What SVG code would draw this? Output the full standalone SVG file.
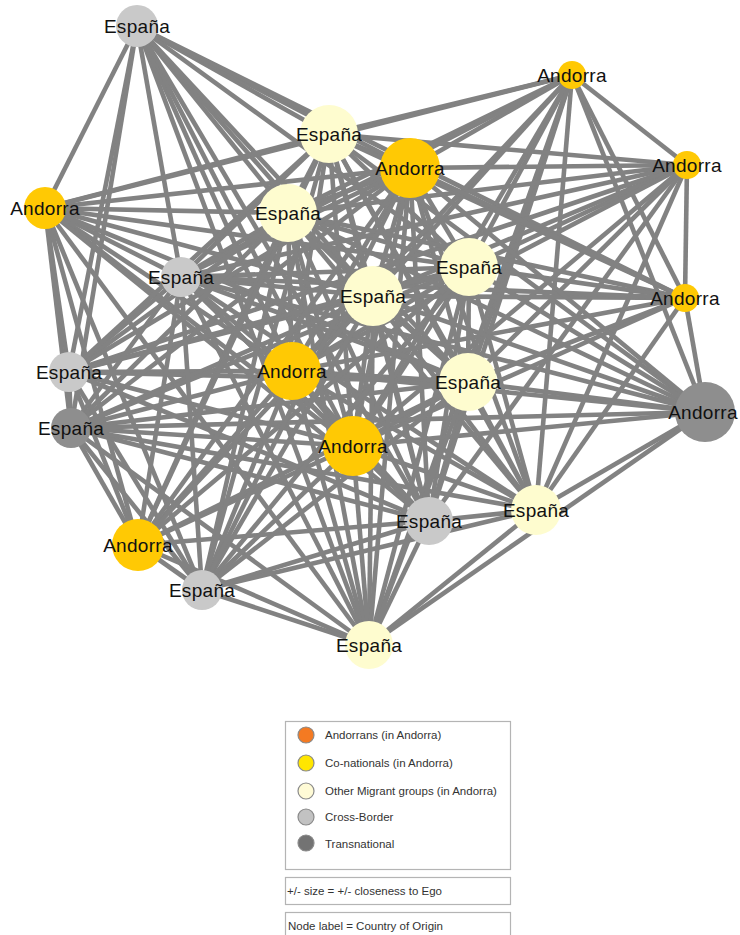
<svg xmlns="http://www.w3.org/2000/svg" width="740" height="935" viewBox="0 0 740 935">
<style>
  .edges line { stroke: #828282; stroke-width: 4.6; stroke-linecap: butt; }
  .and { fill: #FFC904; }
  .oth { fill: #FEFCCF; }
  .cb  { fill: #C9C9C9; }
  .tn  { fill: #8E8E8E; }
  .lbl { font-family: "Liberation Sans", Arial, sans-serif; font-size: 19px; fill: #111; text-anchor: middle; letter-spacing: 0.3px; }
  .box { fill: #fff; stroke: #b4b4b4; stroke-width: 1.2; }
  .key { stroke: #8a8a8a; stroke-width: 1.2; }
  .ltxt { font-family: "Liberation Sans", Arial, sans-serif; font-size: 11.5px; fill: #333; }
</style>
<rect width="740" height="935" fill="#fff"/>

<!-- connectors -->
<g id="edges" class="edges">
  <!-- core cluster -->
  <line x1="329" y1="134" x2="410" y2="168"/>
  <line x1="329" y1="134" x2="288" y2="213"/>
  <line x1="329" y1="134" x2="181" y2="277"/>
  <line x1="329" y1="134" x2="469" y2="267"/>
  <line x1="329" y1="134" x2="373" y2="296"/>
  <line x1="329" y1="134" x2="292" y2="371"/>
  <line x1="329" y1="134" x2="353" y2="446"/>
  <line x1="329" y1="134" x2="468" y2="382"/>
  <line x1="329" y1="134" x2="429" y2="521"/>
  <line x1="329" y1="134" x2="536" y2="510"/>
  <line x1="410" y1="168" x2="288" y2="213"/>
  <line x1="410" y1="168" x2="181" y2="277"/>
  <line x1="410" y1="168" x2="469" y2="267"/>
  <line x1="410" y1="168" x2="373" y2="296"/>
  <line x1="410" y1="168" x2="292" y2="371"/>
  <line x1="410" y1="168" x2="353" y2="446"/>
  <line x1="410" y1="168" x2="468" y2="382"/>
  <line x1="410" y1="168" x2="429" y2="521"/>
  <line x1="410" y1="168" x2="536" y2="510"/>
  <line x1="288" y1="213" x2="181" y2="277"/>
  <line x1="288" y1="213" x2="469" y2="267"/>
  <line x1="288" y1="213" x2="373" y2="296"/>
  <line x1="288" y1="213" x2="292" y2="371"/>
  <line x1="288" y1="213" x2="353" y2="446"/>
  <line x1="288" y1="213" x2="468" y2="382"/>
  <line x1="288" y1="213" x2="429" y2="521"/>
  <line x1="288" y1="213" x2="536" y2="510"/>
  <line x1="181" y1="277" x2="469" y2="267"/>
  <line x1="181" y1="277" x2="373" y2="296"/>
  <line x1="181" y1="277" x2="292" y2="371"/>
  <line x1="181" y1="277" x2="353" y2="446"/>
  <line x1="181" y1="277" x2="468" y2="382"/>
  <line x1="181" y1="277" x2="429" y2="521"/>
  <line x1="181" y1="277" x2="536" y2="510"/>
  <line x1="469" y1="267" x2="373" y2="296"/>
  <line x1="469" y1="267" x2="292" y2="371"/>
  <line x1="469" y1="267" x2="353" y2="446"/>
  <line x1="469" y1="267" x2="468" y2="382"/>
  <line x1="469" y1="267" x2="429" y2="521"/>
  <line x1="469" y1="267" x2="536" y2="510"/>
  <line x1="373" y1="296" x2="292" y2="371"/>
  <line x1="373" y1="296" x2="353" y2="446"/>
  <line x1="373" y1="296" x2="468" y2="382"/>
  <line x1="373" y1="296" x2="429" y2="521"/>
  <line x1="373" y1="296" x2="536" y2="510"/>
  <line x1="292" y1="371" x2="353" y2="446"/>
  <line x1="292" y1="371" x2="468" y2="382"/>
  <line x1="292" y1="371" x2="429" y2="521"/>
  <line x1="292" y1="371" x2="536" y2="510"/>
  <line x1="353" y1="446" x2="468" y2="382"/>
  <line x1="353" y1="446" x2="429" y2="521"/>
  <line x1="353" y1="446" x2="536" y2="510"/>
  <line x1="468" y1="382" x2="429" y2="521"/>
  <line x1="468" y1="382" x2="536" y2="510"/>
  <line x1="429" y1="521" x2="536" y2="510"/>
  <!-- top España -->
  <line x1="137" y1="26" x2="45" y2="208"/>
  <line x1="137" y1="26" x2="69" y2="372"/>
  <line x1="137" y1="26" x2="71" y2="428"/>
  <line x1="137" y1="26" x2="181" y2="277"/>
  <line x1="137" y1="26" x2="369" y2="645"/>
  <line x1="137" y1="26" x2="292" y2="371"/>
  <line x1="137" y1="26" x2="353" y2="446"/>
  <line x1="137" y1="26" x2="429" y2="521"/>
  <line x1="137" y1="26" x2="288" y2="213"/>
  <line x1="137" y1="26" x2="373" y2="296"/>
  <line x1="137" y1="26" x2="468" y2="382"/>
  <line x1="137" y1="26" x2="329" y2="134"/>
  <line x1="137" y1="26" x2="410" y2="168"/>
  <line x1="137" y1="26" x2="469" y2="267"/>
  <line x1="137" y1="26" x2="685" y2="298"/>
  <!-- top Andorra -->
  <line x1="572" y1="75" x2="45" y2="208"/>
  <line x1="572" y1="75" x2="329" y2="134"/>
  <line x1="572" y1="75" x2="410" y2="168"/>
  <line x1="572" y1="75" x2="288" y2="213"/>
  <line x1="572" y1="75" x2="469" y2="267"/>
  <line x1="572" y1="75" x2="373" y2="296"/>
  <line x1="572" y1="75" x2="468" y2="382"/>
  <line x1="572" y1="75" x2="429" y2="521"/>
  <line x1="572" y1="75" x2="369" y2="645"/>
  <line x1="572" y1="75" x2="536" y2="510"/>
  <line x1="572" y1="75" x2="353" y2="446"/>
  <line x1="572" y1="75" x2="292" y2="371"/>
  <line x1="572" y1="75" x2="687" y2="165"/>
  <line x1="572" y1="75" x2="685" y2="298"/>
  <line x1="572" y1="75" x2="705" y2="412"/>
  <line x1="572" y1="75" x2="181" y2="277"/>
  <!-- right Andorra (upper) -->
  <line x1="687" y1="165" x2="329" y2="134"/>
  <line x1="687" y1="165" x2="410" y2="168"/>
  <line x1="687" y1="165" x2="685" y2="298"/>
  <line x1="687" y1="165" x2="288" y2="213"/>
  <line x1="687" y1="165" x2="469" y2="267"/>
  <line x1="687" y1="165" x2="373" y2="296"/>
  <line x1="687" y1="165" x2="292" y2="371"/>
  <line x1="687" y1="165" x2="353" y2="446"/>
  <line x1="687" y1="165" x2="468" y2="382"/>
  <line x1="687" y1="165" x2="429" y2="521"/>
  <line x1="687" y1="165" x2="536" y2="510"/>
  <line x1="687" y1="165" x2="69" y2="372"/>
  <line x1="687" y1="165" x2="181" y2="277"/>
  <!-- right Andorra (lower) -->
  <line x1="685" y1="298" x2="329" y2="134"/>
  <line x1="685" y1="298" x2="410" y2="168"/>
  <line x1="685" y1="298" x2="288" y2="213"/>
  <line x1="685" y1="298" x2="469" y2="267"/>
  <line x1="685" y1="298" x2="373" y2="296"/>
  <line x1="685" y1="298" x2="292" y2="371"/>
  <line x1="685" y1="298" x2="468" y2="382"/>
  <line x1="685" y1="298" x2="353" y2="446"/>
  <line x1="685" y1="298" x2="705" y2="412"/>
  <line x1="685" y1="298" x2="536" y2="510"/>
  <line x1="685" y1="298" x2="181" y2="277"/>
  <!-- left Andorra -->
  <line x1="45" y1="208" x2="329" y2="134"/>
  <line x1="45" y1="208" x2="410" y2="168"/>
  <line x1="45" y1="208" x2="288" y2="213"/>
  <line x1="45" y1="208" x2="469" y2="267"/>
  <line x1="45" y1="208" x2="373" y2="296"/>
  <line x1="45" y1="208" x2="181" y2="277"/>
  <line x1="45" y1="208" x2="468" y2="382"/>
  <line x1="45" y1="208" x2="292" y2="371"/>
  <line x1="45" y1="208" x2="353" y2="446"/>
  <line x1="45" y1="208" x2="69" y2="372"/>
  <line x1="45" y1="208" x2="71" y2="428"/>
  <line x1="45" y1="208" x2="138" y2="545"/>
  <line x1="45" y1="208" x2="202" y2="590"/>
  <line x1="45" y1="208" x2="369" y2="645"/>
  <line x1="45" y1="208" x2="429" y2="521"/>
  <!-- left España (cross-border) -->
  <line x1="69" y1="372" x2="71" y2="428"/>
  <line x1="69" y1="372" x2="181" y2="277"/>
  <line x1="69" y1="372" x2="288" y2="213"/>
  <line x1="69" y1="372" x2="329" y2="134"/>
  <line x1="69" y1="372" x2="410" y2="168"/>
  <line x1="69" y1="372" x2="373" y2="296"/>
  <line x1="69" y1="372" x2="292" y2="371"/>
  <line x1="69" y1="372" x2="353" y2="446"/>
  <line x1="69" y1="372" x2="468" y2="382"/>
  <line x1="69" y1="372" x2="469" y2="267"/>
  <line x1="69" y1="372" x2="138" y2="545"/>
  <line x1="69" y1="372" x2="202" y2="590"/>
  <line x1="69" y1="372" x2="429" y2="521"/>
  <!-- left España (transnational) -->
  <line x1="71" y1="428" x2="181" y2="277"/>
  <line x1="71" y1="428" x2="288" y2="213"/>
  <line x1="71" y1="428" x2="373" y2="296"/>
  <line x1="71" y1="428" x2="292" y2="371"/>
  <line x1="71" y1="428" x2="353" y2="446"/>
  <line x1="71" y1="428" x2="468" y2="382"/>
  <line x1="71" y1="428" x2="429" y2="521"/>
  <line x1="71" y1="428" x2="536" y2="510"/>
  <line x1="71" y1="428" x2="138" y2="545"/>
  <line x1="71" y1="428" x2="202" y2="590"/>
  <line x1="71" y1="428" x2="369" y2="645"/>
  <line x1="71" y1="428" x2="705" y2="412"/>
  <line x1="71" y1="428" x2="469" y2="267"/>
  <line x1="71" y1="428" x2="410" y2="168"/>
  <!-- right Andorra (transnational) -->
  <line x1="705" y1="412" x2="329" y2="134"/>
  <line x1="705" y1="412" x2="410" y2="168"/>
  <line x1="705" y1="412" x2="288" y2="213"/>
  <line x1="705" y1="412" x2="469" y2="267"/>
  <line x1="705" y1="412" x2="373" y2="296"/>
  <line x1="705" y1="412" x2="468" y2="382"/>
  <line x1="705" y1="412" x2="292" y2="371"/>
  <line x1="705" y1="412" x2="353" y2="446"/>
  <line x1="705" y1="412" x2="536" y2="510"/>
  <line x1="705" y1="412" x2="369" y2="645"/>
  <line x1="705" y1="412" x2="181" y2="277"/>
  <!-- lower-left Andorra -->
  <line x1="138" y1="545" x2="181" y2="277"/>
  <line x1="138" y1="545" x2="288" y2="213"/>
  <line x1="138" y1="545" x2="292" y2="371"/>
  <line x1="138" y1="545" x2="353" y2="446"/>
  <line x1="138" y1="545" x2="373" y2="296"/>
  <line x1="138" y1="545" x2="468" y2="382"/>
  <line x1="138" y1="545" x2="429" y2="521"/>
  <line x1="138" y1="545" x2="202" y2="590"/>
  <line x1="138" y1="545" x2="369" y2="645"/>
  <line x1="138" y1="545" x2="329" y2="134"/>
  <line x1="138" y1="545" x2="469" y2="267"/>
  <line x1="138" y1="545" x2="410" y2="168"/>
  <!-- lower-left España -->
  <line x1="202" y1="590" x2="181" y2="277"/>
  <line x1="202" y1="590" x2="288" y2="213"/>
  <line x1="202" y1="590" x2="292" y2="371"/>
  <line x1="202" y1="590" x2="353" y2="446"/>
  <line x1="202" y1="590" x2="373" y2="296"/>
  <line x1="202" y1="590" x2="468" y2="382"/>
  <line x1="202" y1="590" x2="429" y2="521"/>
  <line x1="202" y1="590" x2="536" y2="510"/>
  <line x1="202" y1="590" x2="369" y2="645"/>
  <line x1="202" y1="590" x2="469" y2="267"/>
  <line x1="202" y1="590" x2="410" y2="168"/>
  <line x1="202" y1="590" x2="329" y2="134"/>
  <!-- bottom España -->
  <line x1="369" y1="645" x2="181" y2="277"/>
  <line x1="369" y1="645" x2="292" y2="371"/>
  <line x1="369" y1="645" x2="288" y2="213"/>
  <line x1="369" y1="645" x2="353" y2="446"/>
  <line x1="369" y1="645" x2="373" y2="296"/>
  <line x1="369" y1="645" x2="410" y2="168"/>
  <line x1="369" y1="645" x2="469" y2="267"/>
  <line x1="369" y1="645" x2="468" y2="382"/>
  <line x1="369" y1="645" x2="429" y2="521"/>
  <line x1="369" y1="645" x2="536" y2="510"/>
</g>

<!-- nodes -->
<g id="n1"><circle class="cb" cx="137" cy="26" r="21"/><text class="lbl" x="137" y="33">España</text></g>
<g id="n2"><circle class="oth" cx="329" cy="134" r="29"/><text class="lbl" x="329" y="141">España</text></g>
<g id="n3"><circle class="and" cx="410" cy="168" r="30"/><text class="lbl" x="410" y="175">Andorra</text></g>
<g id="n4"><circle class="and" cx="572" cy="75" r="14"/><text class="lbl" x="572" y="82">Andorra</text></g>
<g id="n5"><circle class="and" cx="687" cy="165" r="14"/><text class="lbl" x="687" y="172">Andorra</text></g>
<g id="n6"><circle class="and" cx="685" cy="298" r="14"/><text class="lbl" x="685" y="305">Andorra</text></g>
<g id="n7"><circle class="and" cx="45" cy="208" r="21"/><text class="lbl" x="45" y="215">Andorra</text></g>
<g id="n8"><circle class="oth" cx="288" cy="213" r="29"/><text class="lbl" x="288" y="220">España</text></g>
<g id="n9"><circle class="cb" cx="181" cy="277" r="20"/><text class="lbl" x="181" y="284">España</text></g>
<g id="n10"><circle class="oth" cx="469" cy="267" r="29"/><text class="lbl" x="469" y="274">España</text></g>
<g id="n11"><circle class="oth" cx="373" cy="296" r="30"/><text class="lbl" x="373" y="303">España</text></g>
<g id="n12"><circle class="cb" cx="69" cy="372" r="20"/><text class="lbl" x="69" y="379">España</text></g>
<g id="n13"><circle class="tn" cx="71" cy="428" r="20"/><text class="lbl" x="71" y="435">España</text></g>
<g id="n14"><circle class="and" cx="292" cy="371" r="29"/><text class="lbl" x="292" y="378">Andorra</text></g>
<g id="n15"><circle class="and" cx="353" cy="446" r="30"/><text class="lbl" x="353" y="453">Andorra</text></g>
<g id="n16"><circle class="oth" cx="468" cy="382" r="29"/><text class="lbl" x="468" y="389">España</text></g>
<g id="n17"><circle class="tn" cx="705" cy="412" r="30"/><text class="lbl" x="703" y="419">Andorra</text></g>
<g id="n18"><circle class="cb" cx="429" cy="521" r="24"/><text class="lbl" x="429" y="528">España</text></g>
<g id="n19"><circle class="oth" cx="536" cy="510" r="25"/><text class="lbl" x="536" y="517">España</text></g>
<g id="n20"><circle class="and" cx="138" cy="545" r="26"/><text class="lbl" x="138" y="552">Andorra</text></g>
<g id="n21"><circle class="cb" cx="202" cy="590" r="20"/><text class="lbl" x="202" y="597">España</text></g>
<g id="n22"><circle class="oth" cx="369" cy="645" r="24"/><text class="lbl" x="369" y="652">España</text></g>

<!-- legend -->
<g id="legend">
  <rect class="box" x="285.5" y="721.5" width="225" height="148"/>
  <circle class="key" cx="306" cy="735" r="8" fill="#F47A22"/>
  <text class="ltxt" x="325" y="739">Andorrans (in Andorra)</text>
  <circle class="key" cx="306" cy="763" r="8" fill="#FFE600"/>
  <text class="ltxt" x="325" y="767">Co-nationals (in Andorra)</text>
  <circle class="key" cx="306" cy="791" r="8" fill="#FFFBD6"/>
  <text class="ltxt" x="325" y="795">Other Migrant groups (in Andorra)</text>
  <circle class="key" cx="306" cy="817" r="8" fill="#C2C2C2"/>
  <text class="ltxt" x="325" y="821">Cross-Border</text>
  <circle class="key" cx="306" cy="843" r="8" fill="#737373"/>
  <text class="ltxt" x="325" y="848">Transnational</text>
  <rect class="box" x="285.5" y="877.5" width="225" height="27"/>
  <text class="ltxt" x="287" y="895">+/- size = +/- closeness to Ego</text>
  <rect class="box" x="285.5" y="912.5" width="225" height="30"/>
  <text class="ltxt" x="288" y="930">Node label = Country of Origin</text>
</g>
</svg>
